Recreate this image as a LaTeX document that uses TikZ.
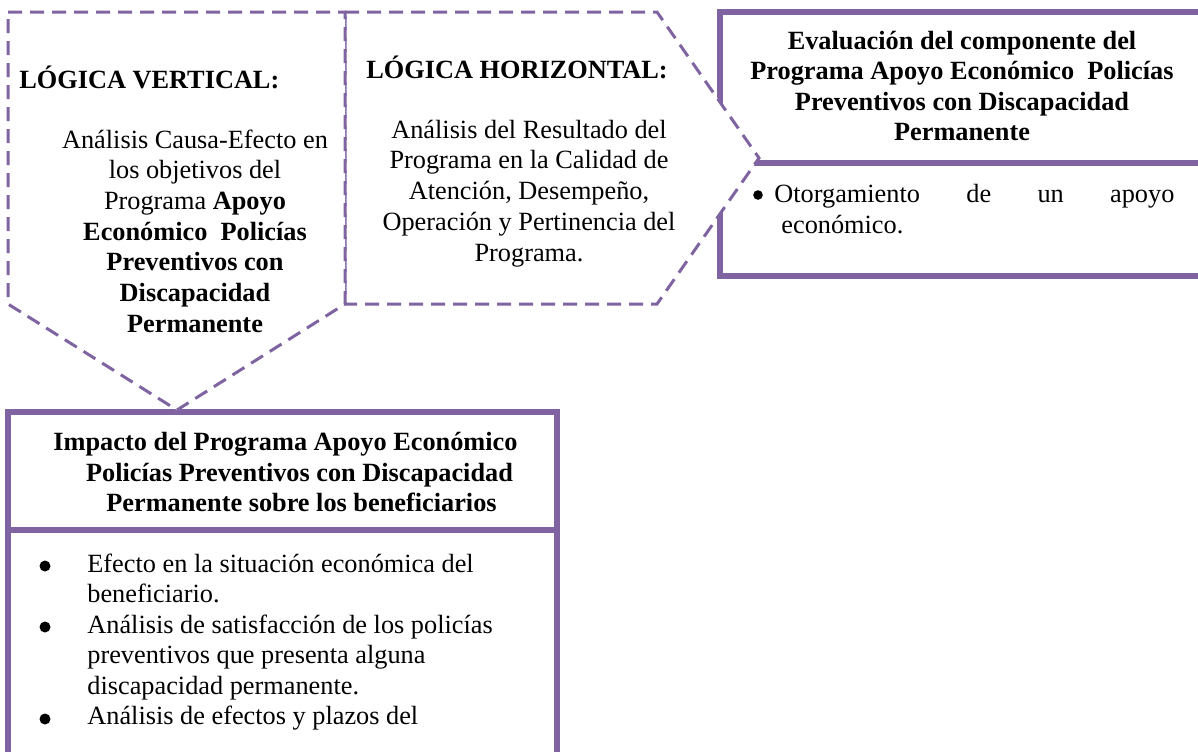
\documentclass[tikz,border=0pt]{standalone}
\usepackage{fontspec}
\setmainfont{Liberation Serif}
\definecolor{pur}{HTML}{8064A2}
\tikzset{
  solidbox/.style={draw=pur, line width=3.4pt, line join=miter},
  dashbox/.style={draw=pur, line width=1.5pt, dash pattern=on 7pt off 4pt, fill=white, line join=miter},
  ln/.style={inner sep=0pt, anchor=base, font=\fontsize{13.15}{15.4}\selectfont},
  lnw/.style={ln, anchor=base west},
  bul/.style={fill=black}
}
\begin{document}
\begin{tikzpicture}[x=0.5pt,y=-0.5pt]
\useasboundingbox (0,0) rectangle (1198,751);
\clip (0,0) rectangle (1198,751);
\fill[white] (0,0) rectangle (1198,751);

% Box 3: Evaluacion del componente
\draw[solidbox] (1220,12) -- (720,12) -- (720,276) -- (1220,276);
\draw[solidbox] (720,163) -- (1220,163);

% Pentagon 2: Logica horizontal
\draw[dashbox] (345,12) -- (657,12) -- (759,158) -- (657,304) -- (345,304) -- cycle;

% Box 4: Impacto
\draw[solidbox] (8,770) -- (8,412) -- (557,412) -- (557,770);
\draw[solidbox] (8,530) -- (557,530);

% Pentagon 1: Logica vertical
\draw[dashbox] (8,12) -- (345,12) -- (345,304) -- (177,410) -- (8,304) -- cycle;

% Texts pentagon 1
\node[lnw] (vt) at (19,88) {\bfseries LÓGICA VERTICAL:};
\node[ln] (v1) at (195,148) {Análisis Causa-Efecto en};
\node[ln] (v2) at (195,178.7) {los objetivos del};
\node[ln] (v3) at (195,209.4) {Programa \textbf{Apoyo}};
\node[ln] (v4) at (195,240.1) {\textbf{Económico\ \ Policías}};
\node[ln] (v5) at (195,270.8) {\textbf{Preventivos con}};
\node[ln] (v6) at (195,301.5) {\textbf{Discapacidad}};
\node[ln] (v7) at (195,332.2) {\textbf{Permanente}};

% Texts pentagon 2
\node[lnw] (ht) at (366,78) {\bfseries LÓGICA HORIZONTAL:};
\node[ln] (h1) at (529,138) {Análisis del Resultado del};
\node[ln] (h2) at (529,168.8) {Programa en la Calidad de};
\node[ln] (h3) at (529,199.6) {Atención, Desempeño,};
\node[ln] (h4) at (529,230.4) {Operación y Pertinencia del};
\node[ln] (h5) at (529,261.2) {Programa.};

% Texts box 3
\node[ln] (e1) at (962,49) {\bfseries Evaluación del componente del};
\node[ln] (e2) at (962,79.5) {\bfseries Programa Apoyo Económico\ \ Policías};
\node[ln] (e3) at (962,110) {\bfseries Preventivos con Discapacidad};
\node[ln] (e4) at (962,140.5) {\bfseries Permanente};
\fill[bul] (758,195) circle (4.8);
\node[lnw] (c1) at (774,202) {\makebox[200pt][s]{Otorgamiento de un apoyo}};
\node[lnw] (c2) at (781,233) {económico.};

% Texts box 4
\node[ln] (i1) at (285.5,450.5) {\bfseries Impacto del Programa Apoyo Económico};
\node[ln] (i2) at (299.5,481) {\bfseries Policías Preventivos con Discapacidad};
\node[ln] (i3) at (301.5,511.5) {\bfseries Permanente sobre los beneficiarios};
\fill[bul] (45,566) circle (5.5);
\fill[bul] (45,627) circle (5.5);
\fill[bul] (45,719) circle (5.5);
\node[lnw] (b1) at (87,572) {Efecto en la situación económica del};
\node[lnw] (b2) at (87,602.5) {beneficiario.};
\node[lnw] (b3) at (87,633) {Análisis de satisfacción de los policías};
\node[lnw] (b4) at (87,663.5) {preventivos que presenta alguna};
\node[lnw] (b5) at (87,694) {discapacidad permanente.};
\node[lnw] (b6) at (87,724.5) {Análisis de efectos y plazos del};
\end{tikzpicture}
\end{document}
